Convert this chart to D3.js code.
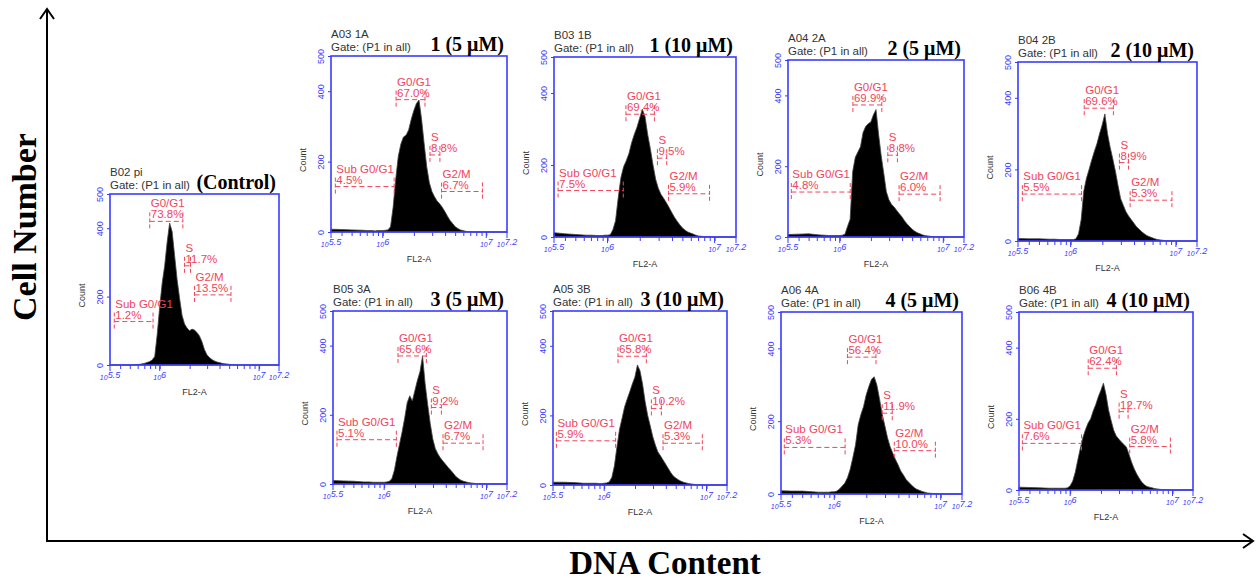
<!DOCTYPE html>
<html>
<head>
<meta charset="utf-8">
<script src="https://cdn.jsdelivr.net/npm/d3@7"></script>
<style>
body { margin: 0; background: #fff; }
svg { display: block; font-family: Arial, "Liberation Sans", sans-serif; }
</style>
</head>
<body>
<svg id="chart" width="1257" height="581"></svg>
<script>
// sample names and treatment captions, control first then rows left->right
const sampleIds = ["B02 pi", "A03 1A", "B03 1B", "A04 2A", "B04 2B", "B05 3A", "A05 3B", "A06 4A", "B06 4B"];
const treatments = ["(Control)", "1 (5 μM)", "1 (10 μM)", "2 (5 μM)", "2 (10 μM)", "3 (5 μM)", "3 (10 μM)", "4 (5 μM)", "4 (10 μM)"];

// histogram bin positions, log10 of FL2-A
const logDna = [5.50, 5.60, 5.70, 5.80, 5.85, 5.90,
    5.925, 5.95, 5.975, 6.00, 6.025, 6.05, 6.075, 6.10, 6.125, 6.15,
    6.175, 6.20, 6.225, 6.25, 6.275, 6.30, 6.325, 6.35, 6.375, 6.40,
    6.425, 6.45, 6.475, 6.50, 6.525, 6.55, 6.575, 6.60, 6.625, 6.65,
    6.675, 6.70, 6.725, 6.75, 6.775, 6.80, 6.825, 6.85, 6.875, 6.90,
    7.00, 7.20];

// cell counts per bin
const countsControl = [0, 0, 0, 2, 5, 10,
    15, 25, 90, 170, 240, 290, 360, 415, 390, 320,
    250, 195, 145, 120, 108, 100, 105, 102, 95, 85,
    68, 45, 30, 22, 16, 12, 9, 7, 5, 4,
    3, 2, 1, 1, 0, 0, 0, 0, 0, 0,
    0, 0];
const counts1A = [8, 7, 6, 5, 4, 4,
    3, 4, 4, 4, 5, 6, 15, 70, 150, 215,
    250, 270, 275, 290, 320, 345, 365, 375, 320, 250,
    185, 140, 115, 100, 88, 80, 70, 58, 45, 33,
    24, 15, 10, 6, 4, 2, 1, 1, 0, 0,
    0, 0];
const counts1B = [12, 9, 7, 5, 5, 4,
    4, 4, 5, 5, 6, 20, 45, 110, 165, 195,
    212, 232, 262, 285, 305, 330, 355, 335, 285, 245,
    200, 160, 135, 118, 107, 95, 82, 68, 55, 44,
    34, 25, 19, 14, 11, 8, 5, 3, 2, 1,
    0, 0];
const counts2A = [7, 8, 9, 6, 5, 4,
    4, 4, 4, 4, 5, 8, 30, 50, 185, 225,
    240, 255, 295, 312, 320, 325, 345, 360, 290, 230,
    180, 128, 105, 92, 85, 75, 66, 57, 46, 37,
    29, 22, 16, 12, 9, 6, 4, 3, 2, 1,
    0, 0];
const counts2B = [7, 6, 6, 5, 5, 4,
    4, 4, 4, 4, 4, 6, 20, 60, 140, 175,
    200, 226, 250, 272, 300, 325, 355, 300, 262, 230,
    195, 155, 118, 100, 82, 70, 60, 50, 40, 33,
    26, 20, 15, 12, 9, 6, 4, 3, 2, 1,
    0, 0];
const counts3A = [10, 9, 8, 6, 6, 5,
    5, 5, 5, 5, 6, 8, 15, 40, 80, 115,
    150, 190, 235, 255, 240, 270, 300, 325, 370, 290,
    230, 175, 130, 102, 87, 75, 66, 57, 48, 40,
    31, 22, 16, 11, 8, 6, 4, 3, 2, 1,
    0, 0];
const counts3B = [8, 8, 7, 5, 5, 5,
    5, 4, 4, 5, 6, 9, 22, 55, 110, 160,
    192, 225, 247, 268, 290, 310, 345, 328, 290, 240,
    200, 170, 139, 115, 95, 84, 72, 60, 48, 36,
    26, 20, 15, 11, 8, 6, 4, 3, 2, 1,
    0, 0];
const counts4A = [9, 8, 8, 6, 5, 5,
    5, 5, 6, 6, 8, 14, 22, 30, 45, 68,
    100, 135, 190, 218, 240, 272, 295, 315, 322, 300,
    262, 220, 188, 155, 130, 112, 95, 80, 63, 52,
    40, 32, 25, 18, 13, 10, 7, 5, 3, 2,
    0, 0];
const counts4B = [8, 7, 6, 5, 5, 5,
    5, 5, 6, 12, 25, 50, 85, 118, 148, 170,
    188, 200, 222, 240, 262, 280, 300, 268, 225, 195,
    168, 152, 143, 135, 128, 120, 100, 78, 60, 45,
    33, 22, 15, 10, 8, 6, 4, 3, 2, 1,
    0, 0];
const allCounts = [countsControl, counts1A, counts1B, counts2A, counts2B, counts3A, counts3B, counts4A, counts4B];

// cell-cycle gates: names, percentages, ranges (log10) and marker level (count)
const phaseNames = ["Sub G0/G1", "G0/G1", "S", "G2/M"];
const phasePct = [
    [1.2, 73.8, 11.7, 13.5],
    [4.5, 67.0, 8.8, 6.7],
    [7.5, 69.4, 9.5, 5.9],
    [4.8, 69.9, 8.8, 6.0],
    [5.5, 69.6, 8.9, 5.3],
    [5.1, 65.6, 9.2, 6.7],
    [5.9, 65.8, 10.2, 5.3],
    [5.3, 56.4, 11.9, 10.0],
    [7.6, 62.4, 12.7, 5.8]
];
const gateLo = [
    [5.543, 5.900, 6.250, 6.350],
    [5.542, 6.129, 6.456, 6.568],
    [5.538, 6.172, 6.466, 6.569],
    [5.532, 6.127, 6.464, 6.573],
    [5.541, 6.129, 6.463, 6.565],
    [5.539, 6.135, 6.461, 6.575],
    [5.533, 6.135, 6.461, 6.575],
    [5.531, 6.124, 6.451, 6.564],
    [5.533, 6.176, 6.478, 6.582]
];
const gateHi = [
    [5.933, 6.233, 6.310, 6.717],
    [6.110, 6.408, 6.552, 6.963],
    [6.147, 6.438, 6.553, 6.953],
    [6.101, 6.406, 6.557, 6.969],
    [6.104, 6.406, 6.549, 6.962],
    [6.119, 6.412, 6.559, 6.966],
    [6.112, 6.412, 6.559, 6.959],
    [6.102, 6.392, 6.545, 6.950],
    [6.111, 6.452, 6.566, 6.979]
];
const gateLevel = [
    [127, 420, 290, 205],
    [129, 376, 219, 115],
    [129, 341, 219, 120],
    [127, 373, 231, 121],
    [131, 371, 219, 114],
    [128, 370, 221, 118],
    [127, 370, 220, 120],
    [128, 376, 222, 119],
    [131, 342, 220, 122]
];

// axis ticks
const yTicks = [0, 200, 400, 500];
const xTickExp = ["5.5", "6", "7", "7.2"];

// panel boxes (pixels)
const boxes = [
    {x: 110, y: 194, w: 169, h: 171},
    {x: 331, y: 56, w: 176, h: 176},
    {x: 554, y: 57, w: 182, h: 180},
    {x: 788, y: 60, w: 176, h: 177},
    {x: 1018, y: 62, w: 179, h: 179},
    {x: 333, y: 311, w: 174, h: 173},
    {x: 553, y: 311, w: 174, h: 174},
    {x: 781, y: 312, w: 181, h: 182},
    {x: 1019, y: 312, w: 174, h: 178}
];

const blue = "#3b3bff";
const red = "#f0445c";
const svg = d3.select("#chart");

// big axes with arrows
svg.append("line").attr("x1", 47).attr("y1", 541).attr("x2", 47).attr("y2", 9)
    .attr("stroke", "#000").attr("stroke-width", 2);
svg.append("polyline").attr("points", "40,19 47,9 54,19")
    .attr("fill", "none").attr("stroke", "#000").attr("stroke-width", 2);
svg.append("line").attr("x1", 46).attr("y1", 541).attr("x2", 1252).attr("y2", 541)
    .attr("stroke", "#000").attr("stroke-width", 2);
svg.append("polyline").attr("points", "1243,534 1253,541 1243,548")
    .attr("fill", "none").attr("stroke", "#000").attr("stroke-width", 2);

svg.append("text")
    .attr("transform", "translate(36,227) rotate(-90)")
    .attr("text-anchor", "middle")
    .style("font-family", "'Liberation Serif', 'Times New Roman', serif")
    .style("font-weight", "bold").style("font-size", "34px")
    .text("Cell Number");
svg.append("text")
    .attr("x", 665).attr("y", 574)
    .attr("text-anchor", "middle")
    .style("font-family", "'Liberation Serif', 'Times New Roman', serif")
    .style("font-weight", "bold").style("font-size", "33px")
    .text("DNA Content");

boxes.forEach(function(b, i) { drawPanel(b, i); });

function drawPanel(b, i) {
    let x = d3.scaleLog().domain([Math.pow(10, 5.5), Math.pow(10, 7.2)]).range([b.x, b.x + b.w]);
    let y = d3.scaleLinear().domain([0, 500]).range([b.y + b.h, b.y]);
    let g = svg.append("g");

    // histogram
    let area = d3.area()
        .x(d => x(Math.pow(10, d[0])))
        .y0(y(0))
        .y1(d => y(d[1]));
    g.append("path")
        .datum(d3.zip(logDna, allCounts[i]))
        .attr("d", area)
        .attr("fill", "#000")
        .attr("stroke", "#444")
        .attr("stroke-width", 0.8);

    // frame
    g.append("rect")
        .attr("x", b.x).attr("y", b.y).attr("width", b.w).attr("height", b.h)
        .attr("fill", "none").attr("stroke", blue).attr("stroke-width", 1.6);

    // y axis
    let ya = g.append("g")
        .attr("transform", "translate(" + b.x + ",0)")
        .call(d3.axisLeft(y).tickValues(yTicks).tickSize(3).tickPadding(3));
    ya.select(".domain").remove();
    ya.selectAll("line").attr("stroke", blue);
    ya.selectAll("text")
        .attr("transform", "rotate(-90)")
        .attr("x", 0).attr("y", -7).attr("dy", 0)
        .attr("text-anchor", "middle")
        .attr("fill", blue)
        .style("font-size", "9px");

    // x axis minor + major ticks
    let xa = g.append("g")
        .attr("transform", "translate(0," + (b.y + b.h) + ")")
        .call(d3.axisBottom(x).tickValues(x.ticks()).tickSize(4).tickFormat(""));
    xa.select(".domain").remove();
    xa.selectAll("line").attr("stroke", blue);
    xTickExp.forEach(function(e) {
        let px = x(Math.pow(10, +e));
        g.append("line")
            .attr("x1", px).attr("x2", px)
            .attr("y1", b.y + b.h).attr("y2", b.y + b.h + 6)
            .attr("stroke", blue);
        let t = g.append("text")
            .attr("x", px).attr("y", b.y + b.h + 15)
            .attr("text-anchor", "middle")
            .attr("fill", blue)
            .style("font-style", "italic");
        t.append("tspan").style("font-size", "7px").text("10");
        t.append("tspan").attr("dy", -2).style("font-size", "9px").text(e);
    });

    g.append("text")
        .attr("x", b.x + b.w / 2).attr("y", b.y + b.h + 30)
        .attr("text-anchor", "middle").attr("fill", "#333")
        .style("font-size", "9px")
        .text("FL2-A");
    g.append("text")
        .attr("transform", "translate(" + (b.x - 25) + "," + (b.y + b.h / 2 + 16) + ") rotate(-90)")
        .attr("text-anchor", "middle").attr("fill", "#333")
        .style("font-size", "9px")
        .text("Count");

    // header
    g.append("text")
        .attr("x", b.x).attr("y", b.y - 18)
        .attr("fill", "#333").style("font-size", "11.5px")
        .text(sampleIds[i]);
    g.append("text")
        .attr("x", b.x).attr("y", b.y - 5)
        .attr("fill", "#333").style("font-size", "11.5px")
        .text("Gate: (P1 in all)");
    g.append("text")
        .attr("x", b.x + b.w - 3).attr("y", b.y - 5)
        .attr("text-anchor", "end")
        .style("font-family", "'Liberation Serif', 'Times New Roman', serif")
        .style("font-weight", "bold").style("font-size", "20px")
        .text(treatments[i]);

    // gates
    phaseNames.forEach(function(name, j) {
        let x1 = x(Math.pow(10, gateLo[i][j]));
        let x2 = x(Math.pow(10, gateHi[i][j]));
        let yy = y(gateLevel[i][j]);
        g.append("line")
            .attr("x1", x1).attr("x2", x2).attr("y1", yy).attr("y2", yy)
            .attr("stroke", red).attr("stroke-dasharray", "5,3");
        [x1, x2].forEach(function(px) {
            g.append("line")
                .attr("x1", px).attr("x2", px).attr("y1", yy - 9).attr("y2", yy + 8)
                .attr("stroke", red).attr("stroke-dasharray", "4,2");
        });
        g.append("text")
            .attr("x", x1 + 1).attr("y", yy - 14)
            .attr("fill", red).style("font-size", "11.5px")
            .text(name);
        g.append("text")
            .attr("x", x1 + 1).attr("y", yy - 3)
            .attr("fill", red).style("font-size", "11.5px")
            .text(phasePct[i][j].toFixed(1) + "%");
    });
}
</script>
</body>
</html>
